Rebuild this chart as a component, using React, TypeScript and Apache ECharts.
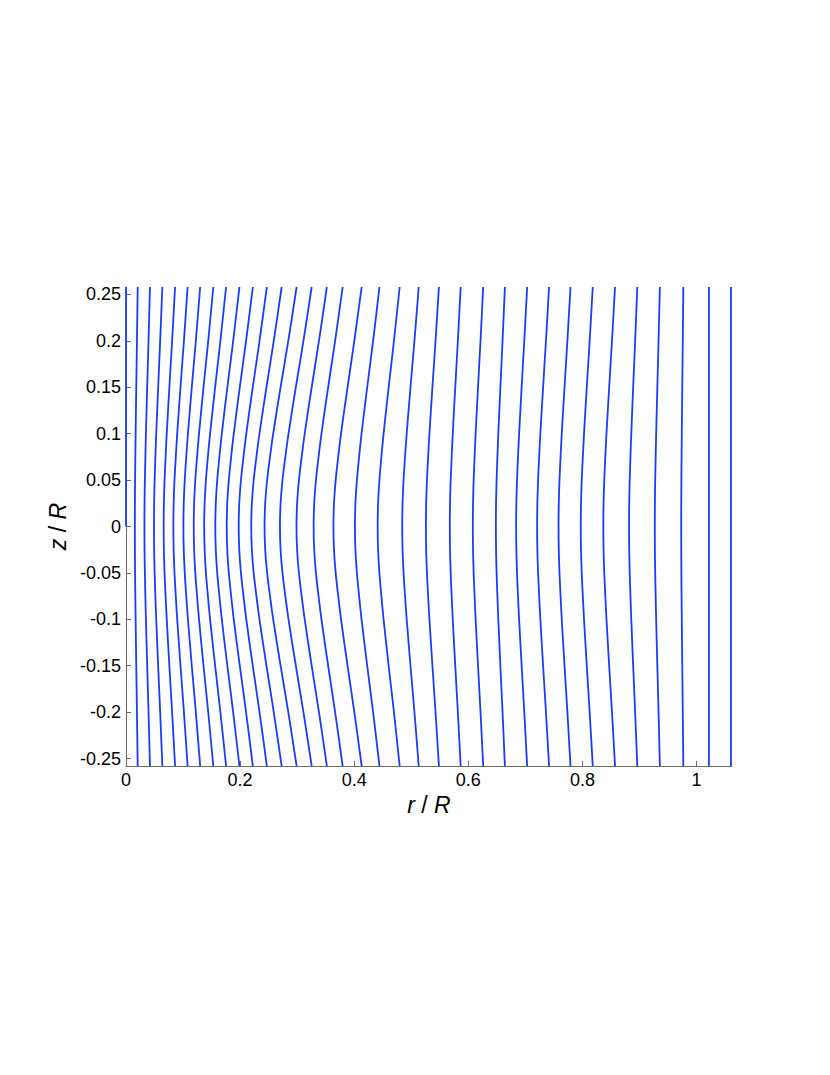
import React, { useEffect, useRef } from 'react';
import * as echarts from 'echarts';

// r/R of each line at the mid-plane z = 0
const rAtMidplane = [
  0.0155, 0.0323, 0.049, 0.066, 0.083, 0.1006, 0.1187, 0.137, 0.1565, 0.1765,
  0.1975, 0.2195, 0.2428, 0.2698, 0.2988, 0.3288, 0.3635, 0.4012, 0.441, 0.4841,
  0.5256, 0.5675, 0.6078, 0.6482, 0.6837, 0.7205, 0.758, 0.797, 0.8365, 0.8816,
  0.9267, 0.973, 1.0216, 1.0602,
];
// r/R of each line at the top / bottom edge z = ±0.258
const rAtEdge = [
  0.0205, 0.042, 0.0637, 0.086, 0.108, 0.13, 0.153, 0.1754, 0.1988, 0.2223,
  0.2468, 0.2728, 0.299, 0.3254, 0.352, 0.3797, 0.413, 0.4442, 0.4796, 0.513,
  0.5484, 0.5865, 0.626, 0.664, 0.703, 0.7414, 0.779, 0.818, 0.857, 0.896,
  0.9356, 0.9767, 1.0216, 1.0602,
];
// |z|/R levels and the share of the bend reached there
const zLevels = [0, 0.025, 0.05, 0.075, 0.1, 0.15, 0.2, 0.258];
const bendFraction = [0, 0.02, 0.08, 0.17, 0.27, 0.5, 0.74, 1];
// the r = 0 line, drawn for the upper half only
const axisLinePoints = [
  [0, 0],
  [0, 0.258],
];

const yTicks = [-0.25, -0.2, -0.15, -0.1, -0.05, 0, 0.05, 0.1, 0.15, 0.2, 0.25];
const yTickLabels = ['-0.25', '-0.2', '-0.15', '-0.1', '-0.05', '0', '0.05', '0.1', '0.15', '0.2', '0.25'];
const xTicks = [0, 0.2, 0.4, 0.6, 0.8, 1];
const xTickLabels = ['0', '0.2', '0.4', '0.6', '0.8', '1'];

const FONT = '"Liberation Sans", Arial, Helvetica, sans-serif';
const LINE_COLOR = '#1a3cff';
const AXIS_COLOR = '#6b6b6b';

function buildLine(i: number): number[][] {
  const pts: number[][] = [];
  const c = rAtMidplane[i];
  const e = rAtEdge[i];
  for (let k = zLevels.length - 1; k >= 1; k--) {
    pts.push([c + (e - c) * bendFraction[k], -zLevels[k]]);
  }
  for (let k = 0; k < zLevels.length; k++) {
    pts.push([c + (e - c) * bendFraction[k], zLevels[k]]);
  }
  return pts;
}

function labelFor(ticks: number[], labels: string[]) {
  return (v: number) => {
    const i = ticks.findIndex((t) => Math.abs(t - v) < 1e-9);
    return i >= 0 ? labels[i] : '';
  };
}

export default function App() {
  const ref = useRef<HTMLDivElement>(null);

  useEffect(() => {
    if (!ref.current) return;
    const chart = echarts.init(ref.current, undefined, { renderer: 'svg' });

    const series: any[] = rAtMidplane.map((_, i) => ({
      type: 'line',
      data: buildLine(i),
      showSymbol: false,
      symbol: 'none',
      smooth: 0.35,
      silent: true,
      clip: false,
      lineStyle: { color: LINE_COLOR, width: 1.8 },
    }));
    series.push({
      type: 'line',
      data: axisLinePoints,
      showSymbol: false,
      symbol: 'none',
      silent: true,
      clip: false,
      z: 5,
      lineStyle: { color: LINE_COLOR, width: 1.8 },
    });

    chart.setOption({
      animation: false,
      backgroundColor: '#ffffff',
      grid: { left: 126, right: 98, top: 287, bottom: 309, containLabel: false },
      xAxis: {
        type: 'value',
        min: 0,
        max: 1.062,
        name: '{i|r} / {i|R}',
        nameLocation: 'middle',
        nameGap: 27,
        nameTextStyle: {
          color: '#000',
          fontSize: 23,
          fontFamily: FONT,
          rich: { i: { fontStyle: 'italic', fontSize: 23, fontFamily: FONT, color: '#000' } },
        },
        axisLine: { show: true, onZero: false, lineStyle: { color: AXIS_COLOR, width: 1 } },
        axisTick: { show: true, inside: true, length: 5, customValues: xTicks, lineStyle: { color: AXIS_COLOR } },
        axisLabel: {
          customValues: xTicks,
          formatter: labelFor(xTicks, xTickLabels),
          color: '#000',
          fontSize: 18,
          fontFamily: FONT,
          margin: 5,
        },
        splitLine: { show: false },
      },
      yAxis: {
        type: 'value',
        min: -0.258,
        max: 0.258,
        name: '{i|z} / {i|R}',
        nameLocation: 'middle',
        nameRotate: 90,
        nameGap: 53,
        nameTextStyle: {
          color: '#000',
          fontSize: 23,
          fontFamily: FONT,
          rich: { i: { fontStyle: 'italic', fontSize: 23, fontFamily: FONT, color: '#000' } },
        },
        axisLine: { show: true, onZero: false, lineStyle: { color: AXIS_COLOR, width: 1 } },
        axisTick: { show: true, inside: true, length: 5, customValues: yTicks, lineStyle: { color: AXIS_COLOR } },
        axisLabel: {
          customValues: yTicks,
          formatter: labelFor(yTicks, yTickLabels),
          color: '#000',
          fontSize: 18,
          fontFamily: FONT,
          margin: 5,
        },
        splitLine: { show: false },
      },
      series,
    });

    return () => {
      chart.dispose();
    };
  }, []);

  return (
    <div
      ref={ref}
      style={{ position: 'fixed', left: 0, top: 0, width: 830, height: 1075, background: '#fff' }}
    />
  );
}
